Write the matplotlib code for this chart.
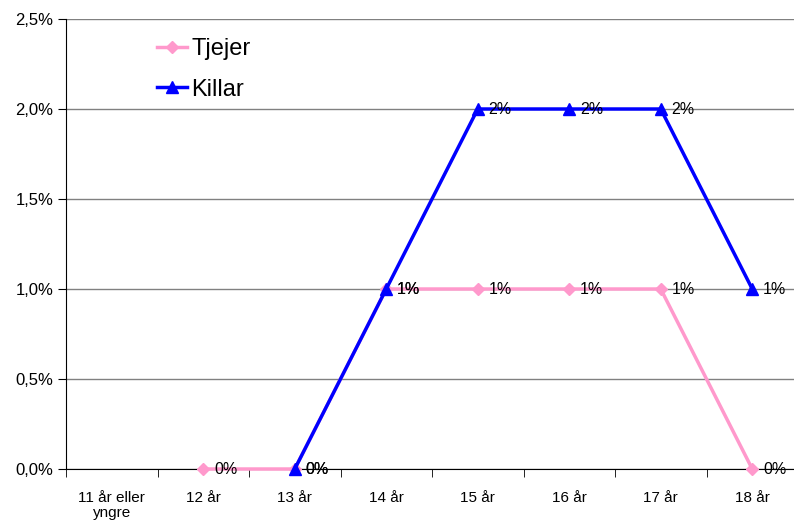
import numpy as np
import matplotlib.pyplot as plt
from matplotlib.ticker import FuncFormatter

categories = ['11 år eller\nyngre', '12 år', '13 år', '14 år', '15 år', '16 år', '17 år', '18 år']
tjejer = [np.nan, 0.0, 0.0, 0.01, 0.01, 0.01, 0.01, 0.0]
killar = [np.nan, np.nan, 0.0, 0.01, 0.02, 0.02, 0.02, 0.01]
yticks = [0.0, 0.005, 0.01, 0.015, 0.02, 0.025]

plt.rcParams['font.family'] = ['Liberation Sans', 'DejaVu Sans']

fig = plt.figure(figsize=(7.94, 5.23), dpi=100)
ax = fig.add_axes([66 / 794, 1 - 469 / 523, (798 - 66) / 794, (469 - 19) / 523])

x = np.arange(len(categories))
ax.plot(x, tjejer, color='#ff99cc', lw=2.5, marker='D', ms=6.5, label='Tjejer', zorder=3, clip_on=False)
ax.plot(x, killar, color='#0000ff', lw=2.5, marker='^', ms=9, label='Killar', zorder=4, clip_on=False)

# datalabels (drawn for both series, overlapping where equal)
for series in (tjejer, killar):
    for xi, v in zip(x, series):
        if not np.isnan(v):
            ax.text(xi + 0.12, v, f'{v * 100:.0f}%', va='center', ha='left', fontsize=11.5, zorder=5)

ax.set_xlim(-0.5, len(categories) - 0.5)
ax.set_ylim(0, 0.025)
ax.set_yticks(yticks)
ax.yaxis.set_major_formatter(FuncFormatter(lambda v, p: f'{v * 100:.1f}%'.replace('.', ',')))
ax.set_xticks(x)
ax.set_xticklabels(categories, fontsize=11, linespacing=1.1)
ax.set_xticks(np.arange(len(categories) + 1) - 0.5, minor=True)
ax.tick_params(axis='x', which='major', length=0, pad=16)
ax.tick_params(axis='x', which='minor', length=6, direction='out')
ax.tick_params(axis='y', labelsize=12, length=6, direction='out', pad=3)

ax.grid(axis='y', color='#808080', lw=1)
ax.set_axisbelow(True)
for s in ['top', 'right']:
    ax.spines[s].set_visible(False)
ax.spines['left'].set_color('black')
ax.spines['bottom'].set_color('black')

ax.legend(loc='upper left', bbox_to_anchor=(0.124, 0.957), frameon=False, fontsize=17,
          handlelength=1.3, handletextpad=0.15, labelspacing=0.77, borderaxespad=0, borderpad=0)

fig.savefig('out.png', dpi=100)
